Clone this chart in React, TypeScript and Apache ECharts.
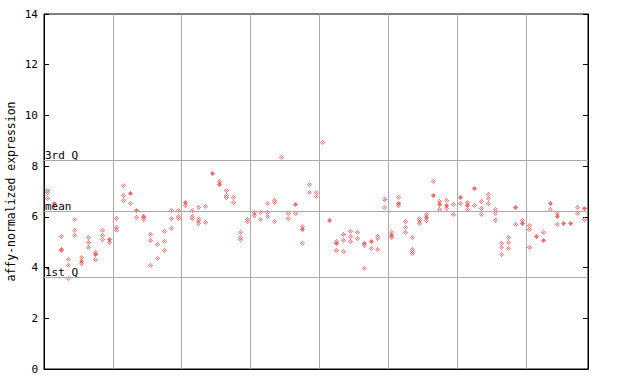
import React, { useEffect, useRef } from "react";
import * as echarts from "echarts";

// [column index, value]
const hatchedPoints: [number, number][] = [
  [0, 7.03], [0, 6.95], [0, 6.73],
  [1, 6.44],
  [2, 5.23], [2, 4.73], [2, 4.67],
  [3, 4.33], [3, 4.1], [3, 3.58],
  [4, 5.88], [4, 5.48], [4, 5.27],
  [5, 4.39], [5, 4.15],
  [6, 5.19], [6, 5.0], [6, 4.81],
  [7, 4.6], [7, 4.3],
  [8, 5.48], [8, 5.27], [8, 5.09],
  [9, 4.98],
  [10, 5.94], [10, 5.6], [10, 5.48],
  [11, 7.22], [11, 6.83], [11, 6.64],
  [12, 6.53],
  [13, 5.98],
  [14, 6.03], [14, 5.97], [14, 5.9],
  [15, 5.31], [15, 5.08], [15, 4.1],
  [16, 4.92], [16, 4.37],
  [17, 5.44], [17, 5.04], [17, 4.69],
  [18, 6.24], [18, 5.92], [18, 5.55],
  [19, 6.24], [19, 6.03], [19, 5.95],
  [20, 6.43],
  [21, 6.24], [21, 6.01], [21, 5.92],
  [22, 6.38], [22, 5.92], [22, 5.84], [22, 5.74],
  [23, 6.42], [23, 5.79],
  [25, 7.41],
  [26, 7.02], [26, 6.86], [26, 6.76],
  [27, 6.77], [27, 6.57],
  [28, 5.39], [28, 5.18], [28, 5.09],
  [29, 5.9], [29, 5.81],
  [30, 6.17], [30, 6.05],
  [31, 6.18], [31, 5.9],
  [32, 6.53], [32, 6.18], [32, 6.01],
  [33, 6.65], [33, 6.57], [33, 5.82],
  [34, 8.36],
  [35, 6.14], [35, 5.92],
  [36, 6.14],
  [37, 5.61], [37, 4.96],
  [38, 7.26], [38, 6.98],
  [39, 6.95], [39, 6.81],
  [40, 8.94],
  [42, 5.02], [42, 4.68],
  [43, 5.31], [43, 5.08], [43, 4.64],
  [44, 5.44], [44, 5.23], [44, 5.03],
  [45, 5.4], [45, 5.15],
  [46, 4.86], [46, 3.98],
  [47, 4.76],
  [48, 5.23], [48, 5.15], [48, 4.72],
  [49, 6.69], [49, 6.38],
  [50, 5.4], [50, 5.19],
  [51, 6.77], [51, 6.43],
  [52, 5.82], [52, 5.59], [52, 5.39],
  [53, 5.17], [53, 4.72], [53, 4.64], [53, 4.56],
  [54, 5.92], [54, 5.84], [54, 5.74],
  [55, 6.09], [55, 5.86],
  [56, 7.4],
  [57, 6.61], [57, 6.3],
  [58, 6.66], [58, 6.34],
  [59, 6.5], [59, 6.1],
  [60, 6.53],
  [61, 6.56], [61, 6.3],
  [62, 6.46],
  [63, 6.61], [63, 6.34], [63, 6.1],
  [64, 6.9], [64, 6.73], [64, 6.53],
  [65, 6.3], [65, 6.14], [65, 5.86],
  [66, 4.96], [66, 4.8], [66, 4.52],
  [67, 5.19], [67, 5.0], [67, 4.76],
  [68, 5.71],
  [69, 5.86],
  [70, 5.67], [70, 5.51], [70, 4.8],
  [72, 5.39],
  [73, 6.3],
  [74, 6.14], [74, 5.71],
  [77, 6.38], [77, 6.14],
  [78, 5.9],
];

const solidPoints: [number, number][] = [
  [1, 6.51], [5, 4.23], [7, 4.52], [9, 5.11], [12, 6.93], [13, 6.24],
  [20, 6.56], [24, 7.7], [25, 7.28], [36, 6.48], [37, 5.51], [41, 5.86],
  [42, 4.96], [46, 4.96], [47, 5.02], [50, 5.26], [51, 6.52], [55, 5.99],
  [56, 6.83], [57, 6.5], [58, 6.44], [60, 6.76], [61, 6.46], [62, 7.11],
  [68, 6.36], [69, 5.72], [71, 5.22], [72, 5.06], [73, 6.53], [74, 6.02],
  [75, 5.74], [76, 5.73], [78, 6.31],
];

const columnCount = 79;
const yTicks = [0, 2, 4, 6, 8, 10, 12, 14];
const refLines: [string, number][] = [
  ["3rd Q", 8.24],
  ["mean", 6.22],
  ["1st Q", 3.62],
];

const RED = "#ff4d4d";
const FONT = "DejaVu Sans Mono";

function symbolUrl(cells: [number, number][]) {
  const rects = cells
    .map(([x, y]) => `<rect x="${x}" y="${y}" width="1" height="1" fill="${RED}"/>`)
    .join("");
  const svg = `<svg xmlns="http://www.w3.org/2000/svg" width="5" height="5" viewBox="0 0 5 5" shape-rendering="crispEdges">${rects}</svg>`;
  return "image://data:image/svg+xml;utf8," + encodeURIComponent(svg);
}

const hatchedCells: [number, number][] = [
  [2, 0], [1, 1], [3, 1], [0, 2], [2, 2], [4, 2], [1, 3], [3, 3], [2, 4],
];
const solidCells: [number, number][] = [
  [2, 0], [1, 1], [2, 1], [3, 1], [0, 2], [1, 2], [2, 2], [3, 2], [4, 2],
  [1, 3], [2, 3], [3, 3], [2, 4],
];

export default function App() {
  const ref = useRef<HTMLDivElement>(null);
  useEffect(() => {
    if (!ref.current) return;
    const chart = echarts.init(ref.current, undefined, { renderer: "svg" });
    const toXY = (p: [number, number]) => [p[0] + 0.5, p[1]];
    chart.setOption({
      animation: false,
      grid: {
        left: 44,
        right: 52,
        top: 14,
        bottom: 15,
        containLabel: false,
        outerBoundsMode: "none",
        show: true,
        borderColor: "#000",
        borderWidth: 1,
      },
      xAxis: {
        type: "value",
        min: 0,
        max: columnCount,
        interval: 10,
        axisLine: { show: true, lineStyle: { color: "#000" } },
        axisTick: { show: false },
        axisLabel: { show: false },
        splitLine: {
          show: true,
          showMinLine: false,
          showMaxLine: false,
          lineStyle: { color: "#aaaaaa", width: 1 },
        },
      },
      yAxis: [
        {
          type: "value",
          min: yTicks[0],
          max: yTicks[yTicks.length - 1],
          interval: 2,
          position: "left",
          name: "affy-normalized expression",
          nameLocation: "middle",
          nameGap: 27,
          nameMoveOverlap: false,
          nameTextStyle: { fontFamily: FONT, fontSize: 11.5, color: "#000" },
          axisLine: { show: true, lineStyle: { color: "#000" } },
          axisTick: { show: true, inside: true, length: 5, lineStyle: { color: "#000" } },
          axisLabel: { fontFamily: FONT, fontSize: 11, color: "#000", margin: 6 },
          splitLine: { show: false },
        },
        {
          type: "value",
          min: yTicks[0],
          max: yTicks[yTicks.length - 1],
          interval: 2,
          position: "right",
          axisLine: { show: true, lineStyle: { color: "#000" } },
          axisTick: { show: true, inside: true, length: 5, lineStyle: { color: "#000" } },
          axisLabel: { show: false },
          splitLine: { show: false },
        },
      ],
      series: [
        {
          type: "scatter",
          data: hatchedPoints.map(toXY),
          symbol: symbolUrl(hatchedCells),
          symbolSize: [5, 5],
          silent: true,
          markLine: {
            silent: true,
            symbol: ["none", "none"],
            lineStyle: { color: "#aaaaaa", type: "solid", width: 1 },
            label: {
              show: true,
              position: "insideStartTop",
              distance: [1, -1],
              fontFamily: FONT,
              fontSize: 11,
              color: "#000",
              formatter: (p: any) => p.name,
            },
            data: refLines.map(([name, v]) => ({ name, yAxis: v })),
          },
        },
        {
          type: "scatter",
          data: solidPoints.map(toXY),
          symbol: symbolUrl(solidCells),
          symbolSize: [5, 5],
          silent: true,
        },
      ],
    });
    return () => chart.dispose();
  }, []);
  return (
    <div
      ref={ref}
      style={{ position: "absolute", left: 0, top: 0, width: 640, height: 384 }}
    />
  );
}
